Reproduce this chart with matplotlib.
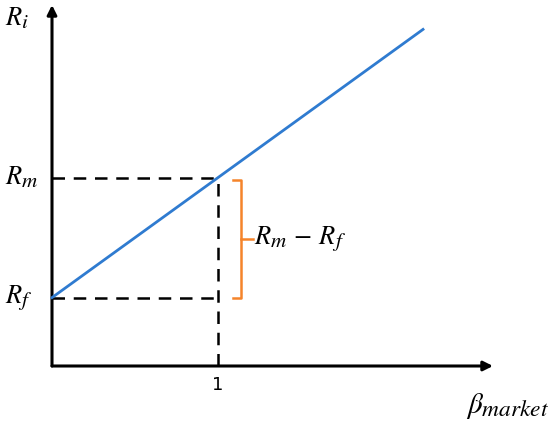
import matplotlib.pyplot as plt
import matplotlib._mathtext as mathtext_internal

# values (Rm - Rf scaled to 1)
r_f = 0.57
r_m = 1.57
beta_m = 1.0
beta_end = 2.235
x_ticks = [1]
x_tick_labels = ["1"]

blue = "#2F7BD0"
orange = "#F5842A"

plt.rcParams["mathtext.fontset"] = "stix"
# larger subscripts, closer to the Cambria Math look
mathtext_internal.SHRINK_FACTOR = 0.8

fig = plt.figure(figsize=(5.5, 4.23), dpi=100)
ax = fig.add_axes([0, 0, 1, 1])
ax.set_xlim(-52 / 166, 498 / 166)
ax.set_ylim(-57 / 120, 366 / 120)
ax.axis("off")

x_max = (493 - 52) / 166
y_max = (366 - 5) / 120

# axes with arrow heads
ax.annotate("", xy=(x_max, 0), xytext=(0, 0),
            arrowprops=dict(arrowstyle="-|>", lw=2.2, color="black",
                            mutation_scale=14, shrinkA=0, shrinkB=0))
ax.annotate("", xy=(0, y_max), xytext=(0, 0),
            arrowprops=dict(arrowstyle="-|>", lw=2.2, color="black",
                            mutation_scale=14, shrinkA=0, shrinkB=0))

# security market line
ax.plot([0, beta_end], [r_f, r_f + (r_m - r_f) * beta_end], color=blue, lw=2, zorder=3)

# dashed guides
dash = dict(color="black", lw=1.8, ls=(0, (5, 3.5)), zorder=2)
ax.plot([0, beta_m], [r_m, r_m], **dash)
ax.plot([0, beta_m], [r_f, r_f], **dash)
ax.plot([beta_m, beta_m], [0, r_m], **dash)

# bracket
bx = beta_m + 0.137
top, bot = r_m - 0.02, r_f + 0.0
mid = (top + bot) / 2
ax.plot([bx - 0.045, bx, bx, bx - 0.045], [top, top, bot, bot], color=orange, lw=1.8)
ax.plot([bx, bx + 0.075], [mid, mid], color=orange, lw=1.8)
ax.text(bx + 0.08, mid, r"$R_m\,-\,R_f$", fontsize=19, va="center", ha="left")

# labels
ax.text(-0.285, r_m, r"$R_m$", fontsize=19, va="center", ha="left")
ax.text(-0.285, r_f, r"$R_f$", fontsize=19, va="center", ha="left")
ax.text(-0.285, (366 - 18) / 120, r"$R_i$", fontsize=19, va="center", ha="left")
for xt, lab in zip(x_ticks, x_tick_labels):
    ax.text(xt, -0.16, lab, fontsize=13, ha="center", va="center")
ax.text((549 - 52) / 166, -0.33, r"$\beta_{market}$", fontsize=21, ha="right", va="center")

fig.savefig("out.png", dpi=100)
